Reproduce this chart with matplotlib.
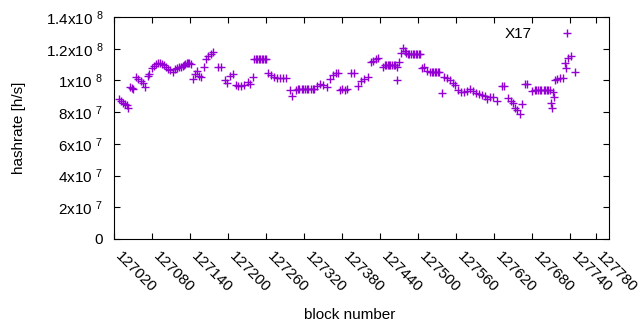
"""Hashrate per block scatter (gnuplot style)."""

import matplotlib

matplotlib.use("Agg")
import matplotlib.pyplot as plt
import numpy as np
from matplotlib.transforms import ScaledTranslation

# block number and hashrate in MH/s
blocks = [
    127027, 127031, 127034, 127037, 127040, 127042, 127045, 127048, 127050, 127054,
    127057, 127062, 127065, 127068, 127073, 127075, 127080, 127083, 127086, 127089,
    127092, 127095, 127098, 127102, 127105, 127108, 127113, 127116, 127119, 127122,
    127125, 127128, 127130, 127132, 127135, 127137, 127138, 127141, 127144, 127147,
    127151, 127154, 127157, 127162, 127165, 127168, 127173, 127176, 127184, 127188,
    127195, 127198, 127203, 127207, 127212, 127215, 127220, 127225, 127231, 127234,
    127239, 127241, 127243, 127245, 127248, 127250, 127253, 127255, 127258, 127260,
    127263, 127267, 127272, 127277, 127282, 127286, 127291, 127297, 127301, 127307,
    127310, 127312, 127316, 127318, 127321, 127324, 127326, 127331, 127333, 127335,
    127340, 127345, 127350, 127356, 127361, 127365, 127370, 127373, 127376, 127380,
    127384, 127387, 127394, 127398, 127405, 127410, 127414, 127421, 127425, 127428,
    127433, 127436, 127444, 127447, 127449, 127452, 127454, 127456, 127458, 127461,
    127463, 127466, 127467, 127470, 127473, 127476, 127479, 127481, 127484, 127486,
    127488, 127491, 127493, 127496, 127498, 127501, 127503, 127506, 127509, 127514,
    127518, 127521, 127523, 127526, 127528, 127531, 127533, 127537, 127541, 127545,
    127550, 127555, 127558, 127563, 127567, 127572, 127577, 127582, 127586, 127591,
    127596, 127601, 127605, 127608, 127613, 127618, 127624, 127632, 127635, 127642,
    127646, 127650, 127653, 127656, 127661, 127664, 127668, 127672, 127680, 127684,
    127686, 127689, 127692, 127694, 127698, 127700, 127703, 127705, 127708, 127710,
    127711, 127713, 127714, 127716, 127719, 127724, 127728, 127732, 127733, 127736,
    127741, 127747,
]
hashrate_mh = [
    88.3, 87.0, 85.8, 85.1, 84.5, 82.6, 95.9, 95.2, 94.6, 102.2,
    100.9, 99.6, 98.4, 95.9, 102.8, 104.0, 107.8, 109.1, 110.4, 111.0,
    111.0, 110.4, 109.7, 108.5, 107.2, 106.6, 105.3, 107.2, 107.8, 108.5,
    108.5, 109.1, 109.7, 110.4, 111.0, 111.0, 111.0, 110.4, 100.9, 104.0,
    105.9, 102.8, 102.2, 108.5, 113.5, 115.4, 116.7, 117.9, 108.5, 108.5,
    100.3, 98.4, 102.8, 104.0, 97.1, 96.5, 96.5, 97.1, 99.0, 97.7,
    102.2, 113.5, 113.5, 113.5, 113.5, 113.5, 113.5, 113.5, 113.5, 113.5,
    104.7, 103.4, 102.2, 101.5, 101.5, 101.5, 101.5, 94.0, 90.2, 94.0,
    94.6, 94.6, 94.6, 94.6, 94.6, 94.6, 94.6, 94.6, 94.6, 94.6,
    96.5, 97.7, 97.1, 95.9, 100.9, 103.4, 104.7, 104.7, 94.0, 94.6,
    94.0, 94.6, 104.7, 104.7, 96.5, 99.6, 100.9, 102.2, 111.6, 112.2,
    113.5, 114.1, 108.5, 109.7, 109.7, 109.7, 109.7, 109.7, 109.7, 109.7,
    109.7, 108.5, 100.3, 111.6, 117.3, 120.4, 118.6, 117.3, 116.7, 116.7,
    116.7, 116.7, 116.7, 116.7, 116.7, 116.7, 116.7, 107.8, 108.5, 105.9,
    105.3, 105.3, 105.3, 105.3, 105.3, 105.3, 105.3, 92.1, 102.2, 101.5,
    100.3, 98.4, 97.1, 94.0, 92.7, 92.7, 93.3, 94.6, 93.3, 92.1,
    91.4, 90.8, 90.2, 88.3, 89.5, 89.5, 87.0, 96.5, 96.5, 88.9,
    87.0, 85.8, 82.6, 81.3, 78.8, 85.1, 97.7, 97.7, 93.3, 94.0,
    94.0, 94.0, 94.0, 94.0, 94.0, 94.0, 94.0, 94.0, 94.0, 85.8,
    82.6, 92.7, 89.5, 100.3, 100.9, 101.5, 101.5, 110.9, 107.8, 114.1,
    115.4, 105.3,
]
series_name = "X17"

x_ticks = [127020, 127080, 127140, 127200, 127260, 127320, 127380,
           127440, 127500, 127560, 127620, 127680, 127740, 127780]
y_ticks = [0, 2e7, 4e7, 6e7, 8e7, 1e8, 1.2e8, 1.4e8]
y_tick_labels = ["0", "2x10 $^{7}$", "4x10 $^{7}$", "6x10 $^{7}$", "8x10 $^{7}$",
                 "1x10 $^{8}$", "1.2x10 $^{8}$", "1.4x10 $^{8}$"]

plt.rcParams["font.family"] = ["Liberation Sans", "DejaVu Sans"]
plt.rcParams["mathtext.fontset"] = "custom"
plt.rcParams["mathtext.rm"] = "Liberation Sans"
plt.rcParams["mathtext.it"] = "Liberation Sans:italic"
plt.rcParams["font.size"] = 11

fig = plt.figure(figsize=(6.4, 3.3), dpi=100)
ax = fig.add_axes([0.1786, 0.2758, 0.7730, 0.6727])

ax.plot(blocks, np.array(hashrate_mh) * 1e6, linestyle="none", marker="+",
        markersize=6, markeredgewidth=1.0, color="#9400d3", label=series_name)

ax.set_xlim(127020, 127801)
ax.set_ylim(0, 1.4e8)
ax.set_xticks(x_ticks)
ax.set_xticklabels([str(t) for t in x_ticks], rotation=-45, ha="left", va="top",
                   rotation_mode="anchor")
ax.set_yticks(y_ticks)
ax.set_yticklabels(y_tick_labels)
ax.tick_params(direction="in", length=4, width=0.8, top=True, right=True, colors="black")
ax.tick_params(axis="x", pad=6)
ax.tick_params(axis="y", pad=8)
for spine in ax.spines.values():
    spine.set_linewidth(0.8)

# gnuplot puts the rotated labels a little to the right of the tick
# (done after tick_params, which resets label transforms)
shift = ScaledTranslation(8 / 100, -2 / 100, fig.dpi_scale_trans)
for label in ax.get_xticklabels():
    label.set_transform(label.get_transform() + shift)

ax.set_ylabel("hashrate [h/s]")
ax.yaxis.set_label_coords(-0.179, 0.5)
ax.set_xlabel("block number", va="center")
ax.xaxis.set_label_coords((350 - 114.3) / 494.7, -(315 - 239) / 222)

ax.legend(loc="upper right", bbox_to_anchor=(0.9616, 0.955), markerfirst=False,
          frameon=False, handlelength=3, handletextpad=0.8, borderpad=0,
          borderaxespad=0, fontsize=11)

fig.savefig("out.png", dpi=100)
